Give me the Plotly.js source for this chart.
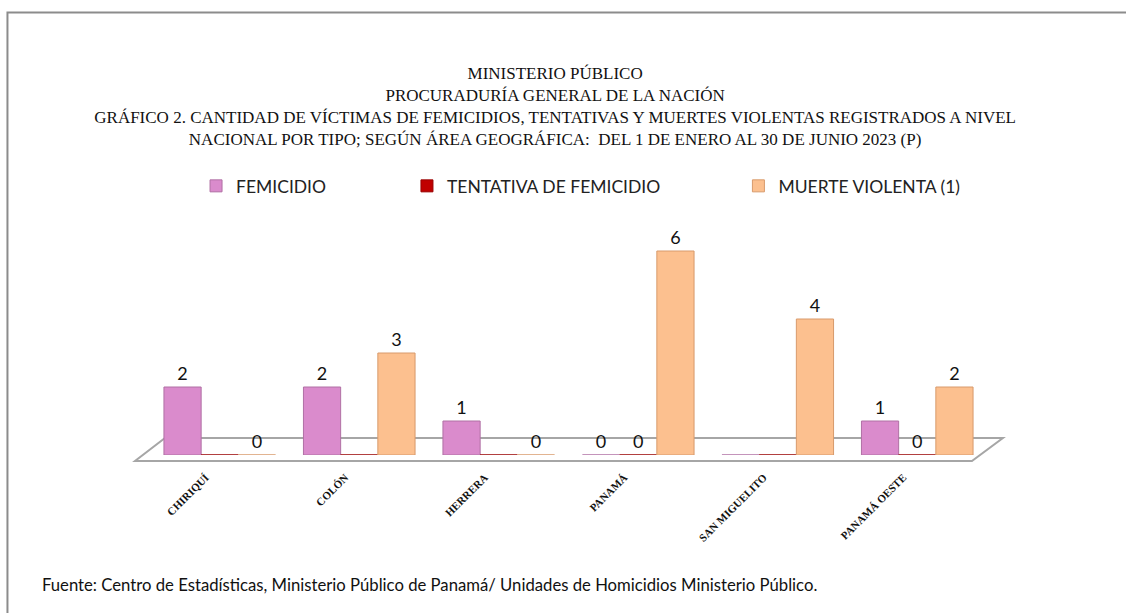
<!DOCTYPE html>
<html>
<head>
<meta charset="utf-8">
<script src="https://cdn.plot.ly/plotly-3.0.1.min.js"></script>
<style>html,body{margin:0;padding:0;background:#fff;}#chart{width:1126px;height:613px;}</style>
</head>
<body>
<div id="chart"></div>
<script>
const categories = ["CHIRIQUÍ", "COLÓN", "HERRERA", "PANAMÁ", "SAN MIGUELITO", "PANAMÁ OESTE"];
const seriesNames = ["FEMICIDIO", "TENTATIVA DE FEMICIDIO", "MUERTE VIOLENTA (1)"];
const femicidio = [2, 2, 1, 0, 0, 1];
const tentativa = [0, 0, 0, 0, 0, 0];
const muerteViolenta = [0, 3, 0, 6, 4, 2];
// data labels as shown in the source (some zero labels are not displayed)
const femicidioLabels = ["2", "2", "1", "0", "", "1"];
const tentativaLabels = ["", "", "", "0", "", "0"];
const muerteLabels = ["0", "3", "0", "6", "4", "2"];

const titleLines = [
  "MINISTERIO PÚBLICO",
  "PROCURADURÍA GENERAL DE LA NACIÓN",
  "GRÁFICO 2. CANTIDAD DE VÍCTIMAS DE FEMICIDIOS, TENTATIVAS Y MUERTES VIOLENTAS REGISTRADOS A NIVEL",
  "NACIONAL POR TIPO; SEGÚN ÁREA GEOGRÁFICA:  DEL 1 DE ENERO AL 30 DE JUNIO 2023 (P)"
];
const sourceNote = "Fuente: Centro de Estadísticas, Ministerio Público de Panamá/ Unidades de Homicidios Ministerio Público.";

const sansFamily = "Lato, 'Liberation Sans', sans-serif";
const serifFamily = "'Liberation Serif', 'Times New Roman', serif";
const labelFont = {family: sansFamily, size: 18, color: "#111"};

function barTrace(name, values, labels, color, edge, legendId) {
  return {
    type: "bar", name: name, x: categories, y: values,
    text: labels, textposition: "outside", textfont: labelFont,
    cliponaxis: false, legend: legendId,
    marker: {color: color, line: {color: edge, width: 1}},
    hoverinfo: "x+y+name"
  };
}

const data = [
  barTrace(seriesNames[0], femicidio, femicidioLabels, "#DA8BCC", "#B070A4", "legend"),
  barTrace(seriesNames[1], tentativa, tentativaLabels, "#C00000", "#990000", "legend2"),
  barTrace(seriesNames[2], muerteViolenta, muerteLabels, "#FCC08F", "#D89A6C", "legend3")
];

function legendAt(x) {
  return {
    orientation: "h", x: x, xanchor: "left", y: 1.055, yanchor: "middle",
    font: {family: sansFamily, size: 17.5, color: "#222"},
    itemclick: false, bgcolor: "rgba(0,0,0,0)"
  };
}

const layout = {
  width: 1126, height: 613,
  paper_bgcolor: "#fff", plot_bgcolor: "rgba(0,0,0,0)",
  margin: {l: 150, r: 139, t: 200, b: 158},
  title: {
    text: titleLines.join("<br>"),
    font: {family: serifFamily, size: 17, color: "#111"},
    x: 0.493, xref: "container", xanchor: "center",
    y: 0.871, yref: "container", yanchor: "top"
  },
  barmode: "group", bargap: 0.2, bargroupgap: 0,
  showlegend: true,
  legend: legendAt(0.055),
  legend2: legendAt(0.307),
  legend3: legendAt(0.703),
  xaxis: {
    type: "category", tickangle: -45, showgrid: false, zeroline: false, showline: false,
    ticks: "", ticklabelstandoff: 13, ticklabelshift: -14,
    tickfont: {family: serifFamily, size: 11, color: "#111", weight: "bold"}
  },
  yaxis: {range: [0, 7.5], visible: false, showgrid: false, zeroline: false},
  shapes: [
    {type: "path", xref: "paper", yref: "paper",
     path: "M -0.0179 -0.0235 L 0.982 -0.0235 L 1.019 0.0667 L 0.0179 0.0667 Z",
     line: {color: "#A6A6A6", width: 2}, fillcolor: "rgba(0,0,0,0)", layer: "below"},
    {type: "rect", xref: "paper", yref: "paper",
     x0: -0.1703, x1: 1.2, y0: -0.7, y1: 1.735,
     line: {color: "#8C8C8C", width: 2}, fillcolor: "rgba(0,0,0,0)", layer: "below"}
  ],
  annotations: [
    {text: sourceNote, xref: "paper", yref: "paper", x: -0.1314, y: -0.51,
     xanchor: "left", yanchor: "middle", showarrow: false,
     font: {family: sansFamily, size: 16.7, color: "#111"}}
  ]
};

Plotly.newPlot("chart", data, layout, {displayModeBar: false, staticPlot: true});
</script>
</body>
</html>
